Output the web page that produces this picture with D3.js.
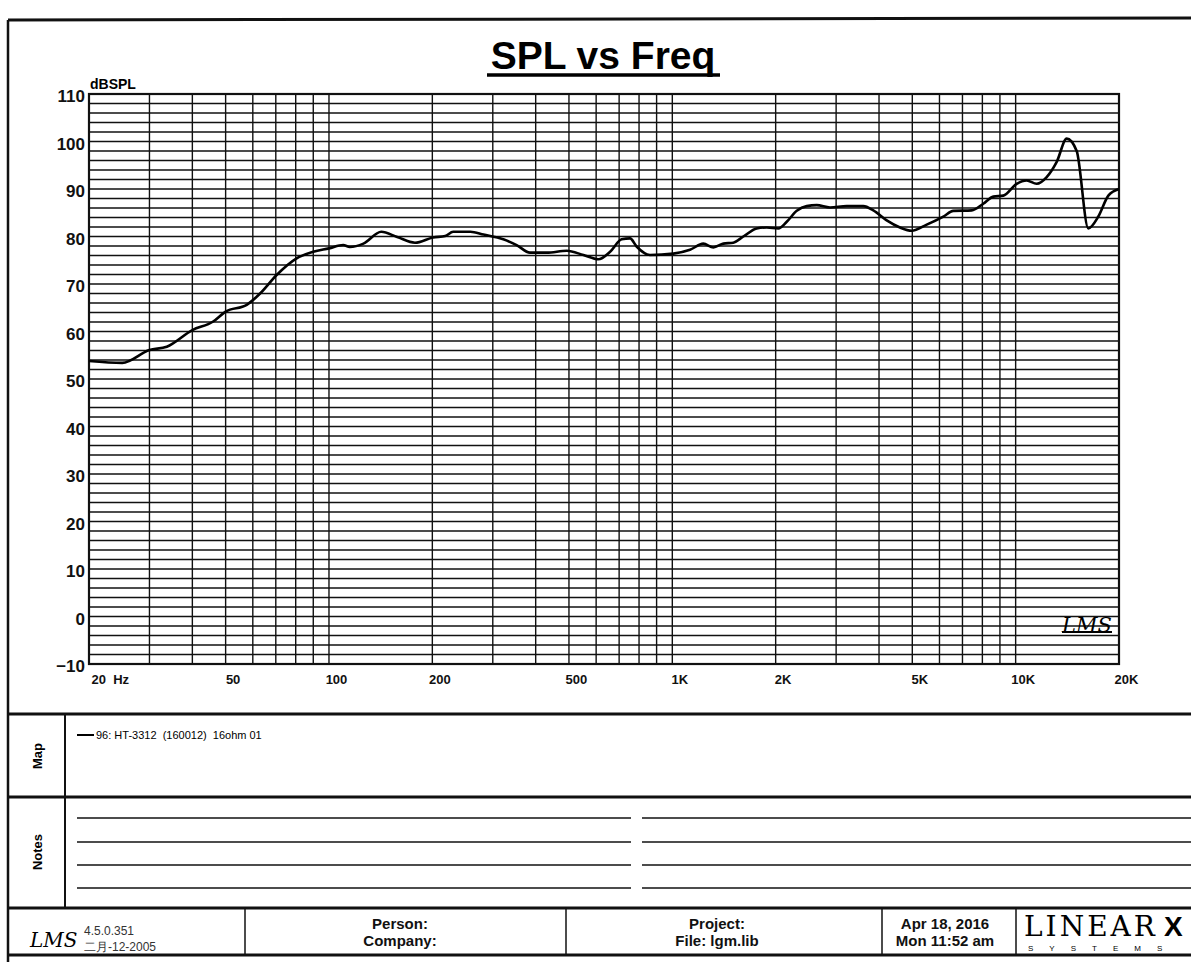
<!DOCTYPE html>
<html>
<head>
<meta charset="utf-8">
<script src="https://cdn.jsdelivr.net/npm/d3@7"></script>
<style>
  body { margin: 0; background: #fff; }
  svg { display: block; font-family: "Liberation Sans", Arial, sans-serif; }
  .grid line { stroke: #111; stroke-width: 1.4; }
  .axis text { font-weight: bold; fill: #111; }
  .axis path, .axis line { display: none; }
  .frame { stroke: #111; fill: none; }
  .foot { font-weight: bold; font-size: 15px; fill: #111; text-anchor: middle; }
</style>
</head>
<body>
<div class="viz"></div>
<script>
const freqs = [20, 25, 30, 33.7, 40, 46, 50, 57.6, 63, 70.4, 80.5, 90, 100, 110, 115, 126, 142, 158, 178,
  201, 218, 230, 258, 282, 322, 352, 385, 431, 493, 551, 609, 659, 712, 753, 787, 861, 1007, 1126, 1231,
  1317, 1408, 1505, 1610, 1761, 1883, 2036, 2154, 2304, 2463, 2634, 2880, 3220, 3600, 3850, 4212, 4604,
  4980, 5508, 6156, 6584, 7448, 8050, 8610, 9206, 10070, 10768, 11516, 12314, 13170, 14084, 15060,
  16280, 17412, 18618, 20000];
const spl = [53.8, 53.4, 56.1, 56.8, 60.3, 62.1, 64.2, 65.6, 68.0, 71.9, 75.4, 76.8, 77.5, 78.2, 77.8, 78.5,
  81.0, 79.9, 78.7, 79.8, 80.1, 81.0, 81.0, 80.4, 79.4, 78.2, 76.6, 76.6, 77.0, 76.1, 75.2, 76.8, 79.4,
  79.6, 77.9, 76.1, 76.4, 77.2, 78.5, 77.7, 78.5, 78.7, 80.0, 81.7, 81.9, 81.7, 83.1, 85.4, 86.4, 86.6,
  86.1, 86.4, 86.4, 85.5, 83.4, 81.9, 81.2, 82.5, 84.2, 85.4, 85.5, 86.9, 88.4, 88.6, 91.1, 91.8, 91.1,
  92.5, 95.7, 100.6, 98.0, 81.7, 84.2, 88.6, 90.0];

const xTickValues = [20, 50, 100, 200, 500, 1000, 2000, 5000, 10000, 20000];
const xTickLabels = ["20  Hz", "50", "100", "200", "500", "1K", "2K", "5K", "10K", "20K"];
const yTickValues = [-10, 0, 10, 20, 30, 40, 50, 60, 70, 80, 90, 100, 110];

const mapLabel = "96: HT-3312  (160012)  16ohm 01";

const W = 1191, H = 962;
const plot = { left: 89, right: 1119, top: 94, bottom: 664 };

const svg = d3.select('.viz')
    .append('svg')
    .attr('width', W)
    .attr('height', H);

const x = d3.scaleLog()
    .domain([20, 20000])
    .range([plot.left, plot.right]);

const y = d3.scaleLinear()
    .domain([-10, 110])
    .range([plot.bottom, plot.top]);

/* GRID */
const grid = svg.append("g").attr("class", "grid");

// horizontal lines every 2 dB
grid.selectAll(".hl")
    .data(d3.range(-10, 111, 2))
    .enter()
    .append("line")
    .attr("x1", plot.left)
    .attr("x2", plot.right)
    .attr("y1", d => y(d))
    .attr("y2", d => y(d));

// vertical log lines
grid.selectAll(".vl")
    .data(x.ticks())
    .enter()
    .append("line")
    .attr("x1", d => x(d))
    .attr("x2", d => x(d))
    .attr("y1", plot.top)
    .attr("y2", plot.bottom);

svg.append("rect")
    .attr("class", "frame")
    .attr("x", plot.left)
    .attr("y", plot.top)
    .attr("width", plot.right - plot.left)
    .attr("height", plot.bottom - plot.top)
    .attr("stroke-width", 2.2);

/* AXES */
svg.append("g")
    .attr("class", "axis")
    .attr("transform", `translate(${plot.left - 4},0)`)
    .call(d3.axisLeft(y).tickValues(yTickValues).tickSize(0).tickPadding(0))
    .selectAll("text")
    .style("font-size", "17px")
    .attr("dy", "0.45em");

const xAxis = svg.append("g")
    .attr("class", "axis")
    .attr("transform", `translate(0,${plot.bottom + 10})`)
    .call(d3.axisBottom(x).tickValues(xTickValues)
        .tickFormat((d, i) => xTickLabels[i]).tickSize(0).tickPadding(0));

xAxis.selectAll("text")
    .style("font-size", "13px")
    .attr("dy", "0.75em")
    .attr("dx", (d, i) => i === 0 ? 2 : 7)
    .attr("text-anchor", (d, i) => i === 0 ? "start" : "middle")
    .style("white-space", "pre");

/* CURVE */
const line = d3.line()
    .x((d, i) => x(freqs[i]))
    .y(d => y(d))
    .curve(d3.curveMonotoneX);

svg.append("path")
    .datum(spl)
    .attr("d", line)
    .attr("fill", "none")
    .attr("stroke", "#000")
    .attr("stroke-width", 2.6)
    .attr("stroke-linejoin", "round");

/* TITLES */
svg.append("text")
    .attr("x", 603)
    .attr("y", 69)
    .attr("text-anchor", "middle")
    .style("font-size", "39px")
    .style("font-weight", "bold")
    .text("SPL vs Freq");

svg.append("line")
    .attr("x1", 487).attr("x2", 720)
    .attr("y1", 75).attr("y2", 75)
    .attr("stroke", "#000").attr("stroke-width", 3.5);

svg.append("text")
    .attr("x", 90)
    .attr("y", 89)
    .style("font-size", "14px")
    .style("font-weight", "bold")
    .text("dBSPL");

// LMS stamp inside the plot
svg.append("text")
    .attr("x", 1062)
    .attr("y", 632)
    .style("font-size", "21px")
    .style("font-style", "italic")
    .style("font-family", "'DejaVu Serif', serif")
    .text("LMS");
svg.append("line")
    .attr("x1", 1062).attr("x2", 1112)
    .attr("y1", 632).attr("y2", 632)
    .attr("stroke", "#000").attr("stroke-width", 1.8);

/* PAGE FRAME AND TABLE */
const ink = svg.append("g").attr("class", "frame");

[[8, 20, 1191, 18, 3], [8, 20, 8, 962, 2.5],
 [8, 714, 1191, 714, 3], [8, 797, 1191, 797, 3], [8, 908, 1191, 908, 3], [8, 955, 1191, 955, 3],
 [65, 714, 65, 908, 2], [245, 908, 245, 955, 1.5], [566, 908, 566, 955, 1.5],
 [882, 908, 882, 955, 1.5], [1016, 908, 1016, 955, 1.5]]
    .forEach(function(l) {
        ink.append("line")
            .attr("x1", l[0]).attr("y1", l[1])
            .attr("x2", l[2]).attr("y2", l[3])
            .attr("stroke-width", l[4]);
    });

// notes lines, with a gap in the middle
[818, 842, 865, 888].forEach(function(yy) {
    ink.append("line").attr("x1", 77).attr("x2", 631).attr("y1", yy).attr("y2", yy).attr("stroke-width", 1.6);
    ink.append("line").attr("x1", 642).attr("x2", 1191).attr("y1", yy).attr("y2", yy).attr("stroke-width", 1.6);
});

svg.append("text")
    .attr("transform", "translate(42,756) rotate(-90)")
    .attr("text-anchor", "middle")
    .style("font-size", "13px")
    .style("font-weight", "bold")
    .text("Map");

svg.append("text")
    .attr("transform", "translate(42,852) rotate(-90)")
    .attr("text-anchor", "middle")
    .style("font-size", "13px")
    .style("font-weight", "bold")
    .text("Notes");

// map legend
svg.append("line")
    .attr("x1", 77).attr("x2", 94)
    .attr("y1", 735).attr("y2", 735)
    .attr("stroke", "#000").attr("stroke-width", 2);
svg.append("text")
    .attr("x", 96)
    .attr("y", 739)
    .style("font-size", "11px")
    .style("white-space", "pre")
    .text(mapLabel);

/* FOOTER */
svg.append("text")
    .attr("x", 30).attr("y", 947)
    .style("font-size", "20px")
    .style("font-style", "italic")
    .style("font-family", "'DejaVu Serif', serif")
    .text("LMS");
svg.append("text")
    .attr("x", 84).attr("y", 935)
    .style("font-size", "12px")
    .style("fill", "#333")
    .text("4.5.0.351");
svg.append("text")
    .attr("x", 84).attr("y", 951)
    .style("font-size", "12px")
    .style("fill", "#333")
    .text("二月-12-2005");

const footer = [
    { x: 400, lines: ["Person:", "Company:"] },
    { x: 717, lines: ["Project:", "File: lgm.lib"] },
    { x: 945, lines: ["Apr 18, 2016", "Mon 11:52 am"] }
];
footer.forEach(function(f) {
    f.lines.forEach(function(t, i) {
        svg.append("text")
            .attr("class", "foot")
            .attr("x", f.x)
            .attr("y", 929 + i * 17)
            .text(t);
    });
});

// LinearX logo
svg.append("text")
    .attr("x", 1024).attr("y", 936)
    .style("font-family", "'DejaVu Serif', 'Liberation Serif', serif")
    .style("font-size", "28px")
    .style("letter-spacing", "3px")
    .text("LINEAR");
svg.append("text")
    .attr("x", 1164).attr("y", 936)
    .style("font-size", "28px")
    .style("font-weight", "bold")
    .text("X");
svg.append("text")
    .attr("x", 1028).attr("y", 951)
    .style("font-size", "8px")
    .style("letter-spacing", "16px")
    .text("SYSTEMS");
</script>
</body>
</html>
